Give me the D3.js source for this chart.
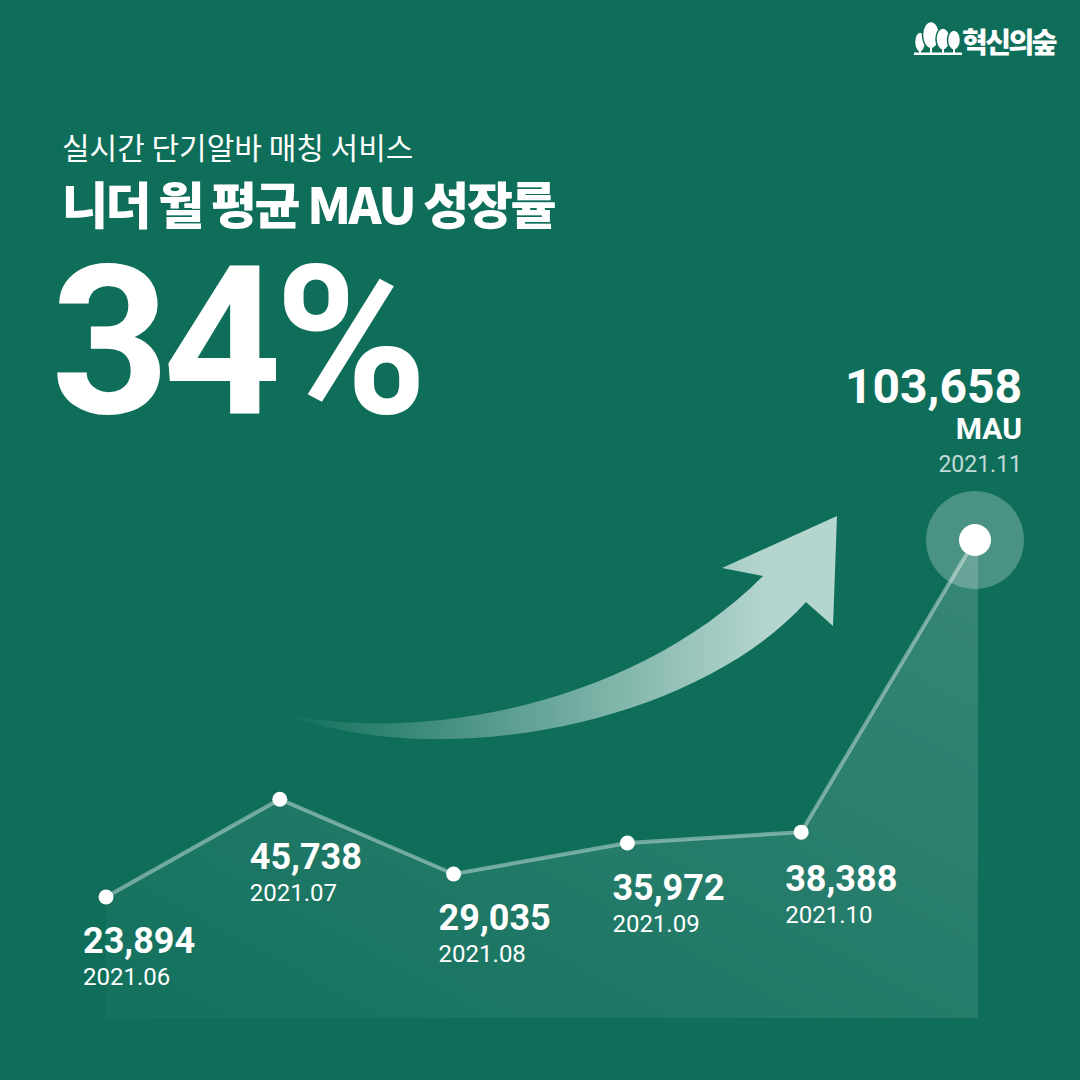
<!DOCTYPE html>
<html><head><meta charset="utf-8">
<script src="https://cdn.jsdelivr.net/npm/d3@7"></script>
<style>html,body{margin:0;padding:0;background:#0e6e5a;} svg{display:block}</style>
</head><body>
<svg id="c" width="1080" height="1080"></svg>
<script>
// ---- data ----
const months = ["2021.06","2021.07","2021.08","2021.09","2021.10","2021.11"];
const mau = [23894, 45738, 29035, 35972, 38388, 103658];
const subtitle = "실시간 단기알바 매칭 서비스";
const title = "니더 월 평균 MAU 성장률";
const growth = "34%";
const brand = "혁신의숲";
const unit = "MAU";

// ---- layout ----
const BG = "#0e6e5a";
const W = 1080, H = 1080;
const labelDx = [-23, -30, -15, -15, -16];
const labelDy = [56, 70, 56, 57, 59];
const NUM_FONT = "Roboto, 'Noto Sans', sans-serif";
const KR_FONT = "'Noto Sans CJK KR', 'Noto Sans', sans-serif";

const svg = d3.select("#c");
svg.append("rect").attr("width", W).attr("height", H).attr("fill", BG);

const defs = svg.append("defs");
const ag = defs.append("linearGradient").attr("id","areaGrad")
  .attr("x1","0").attr("y1","1").attr("x2","1").attr("y2","0");
ag.append("stop").attr("offset","0").attr("stop-color","#fff").attr("stop-opacity",0.02);
ag.append("stop").attr("offset","1").attr("stop-color","#fff").attr("stop-opacity",0.17);

const arg = defs.append("linearGradient").attr("id","arrowGrad")
  .attr("gradientUnits","userSpaceOnUse").attr("x1",283).attr("y1",0).attr("x2",770).attr("y2",0);
arg.append("stop").attr("offset","0").attr("stop-color","#b5d6cf").attr("stop-opacity",0);
arg.append("stop").attr("offset","1").attr("stop-color","#b5d6cf").attr("stop-opacity",1);

// ---- scales ----
const x = d3.scalePoint().domain(months).range([106, 975]);
const y = d3.scaleLinear().domain([0, d3.max(mau)]).range([1004, 540]);
const baseY = 1018;
const pts = months.map((m,i)=>({m, v:mau[i], x:x(m), y:y(mau[i]), i}));
const last = pts[pts.length-1];

// ---- area ----
const areaPts = pts.concat([{x:last.x+3, y:last.y}]);
const area = d3.area().x(d=>d.x).y0(baseY).y1(d=>d.y);
svg.append("path").datum(areaPts).attr("d", area).attr("fill","url(#areaGrad)");

// ---- arrow decoration ----
svg.append("path")
  .attr("d","M283,714 C430,745 640,700 763,576 L722,568 L837,516 L833,626 L806,602 C700,720 450,775 283,714 Z")
  .attr("fill","url(#arrowGrad)");

// ---- line ----
const line = d3.line().x(d=>d.x).y(d=>d.y);
svg.append("path").datum(pts).attr("d", line)
  .attr("fill","none").attr("stroke","rgba(255,255,255,0.4)").attr("stroke-width",4);

// ---- points ----
svg.append("circle").attr("cx", last.x).attr("cy", last.y).attr("r", 49)
  .attr("fill","rgba(255,255,255,0.25)");
svg.selectAll("circle.pt").data(pts).join("circle").attr("class","pt")
  .attr("cx", d=>d.x).attr("cy", d=>d.y)
  .attr("r", d=>d.i===pts.length-1 ? 16 : 7.5)
  .attr("fill","#fff");

// ---- point labels ----
const fmt = d3.format(",");
const lab = svg.selectAll("g.lab").data(pts.slice(0,-1)).join("g").attr("class","lab")
  .attr("transform", d=>`translate(${d.x+labelDx[d.i]},${d.y+labelDy[d.i]})`);
lab.append("text").text(d=>fmt(d.v)).attr("fill","#fff")
  .attr("font-family",NUM_FONT).attr("font-weight",700).attr("font-size",36);
lab.append("text").text(d=>d.m).attr("y",32).attr("fill","#fff")
  .attr("font-family",NUM_FONT).attr("font-weight",400).attr("font-size",24);

const tr = svg.append("g").attr("transform",`translate(${last.x+47},${last.y})`)
  .attr("text-anchor","end");
tr.append("text").text(fmt(last.v)).attr("y",-137).attr("fill","#fff")
  .attr("font-family",NUM_FONT).attr("font-weight",700).attr("font-size",48);
tr.append("text").text(unit).attr("y",-101).attr("fill","#fff")
  .attr("font-family",NUM_FONT).attr("font-weight",700).attr("font-size",30);
tr.append("text").text(last.m).attr("y",-68).attr("fill","rgba(255,255,255,0.75)")
  .attr("font-family",NUM_FONT).attr("font-weight",400).attr("font-size",23);

// ---- titles ----
svg.append("text").text(subtitle).attr("x",62).attr("y",159).attr("fill","#fff")
  .attr("font-family",KR_FONT).attr("font-weight",400).attr("font-size",30);
svg.append("text").text(title).attr("x",62).attr("y",224).attr("fill","#fff")
  .attr("font-family",KR_FONT).attr("font-weight",900).attr("font-size",50)
  .attr("letter-spacing",-2.4);
svg.append("text").text(growth).attr("x",51).attr("y",413).attr("fill","#fff")
  .attr("font-family",NUM_FONT).attr("font-weight",700).attr("font-size",207)
  .attr("letter-spacing",-7);

// ---- brand logo ----
const logo = svg.append("g");
const trees = [
  {cx:920, cy:42, rx:5.5, ry:10},
  {cx:931, cy:35, rx:8.5, ry:13.5},
  {cx:943, cy:39, rx:7, ry:11},
  {cx:954, cy:40, rx:6.5, ry:10}
];
trees.forEach(t=>{
  logo.append("ellipse").attr("cx",t.cx).attr("cy",t.cy).attr("rx",t.rx).attr("ry",t.ry)
    .attr("fill","#fff").attr("stroke",BG).attr("stroke-width",1.5);
});
trees.forEach(t=>{
  logo.append("line").attr("x1",t.cx).attr("x2",t.cx).attr("y1",t.cy+t.ry-1).attr("y2",54)
    .attr("stroke","#fff").attr("stroke-width",2);
});
logo.append("rect").attr("x",914).attr("y",52.5).attr("width",48).attr("height",2.5).attr("fill","#fff");
svg.append("text").text(brand).attr("x",962).attr("y",53).attr("fill","#fff")
  .attr("font-family",KR_FONT).attr("font-weight",900).attr("font-size",28)
  .attr("letter-spacing",-2.5);
</script>
</body></html>
